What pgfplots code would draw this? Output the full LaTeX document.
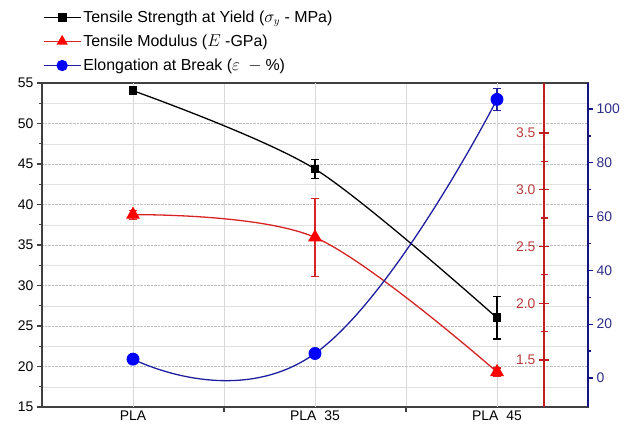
\documentclass[border=0pt]{standalone}
\usepackage{pgfplots}
\pgfplotsset{compat=1.18}
\usepackage{fontspec}
\setmainfont{Liberation Sans}

\definecolor{strength}{RGB}{0,0,0}
\definecolor{modline}{RGB}{215,35,35}
\definecolor{modmark}{RGB}{255,0,0}
\definecolor{modaxis}{RGB}{190,30,30}
\definecolor{modtext}{RGB}{185,60,60}
\definecolor{elline}{RGB}{30,30,160}
\definecolor{elmark}{RGB}{0,0,255}
\definecolor{elaxis}{RGB}{20,20,130}
\definecolor{eltext}{RGB}{45,45,140}

% tensile strength at yield (MPa)
\pgfplotstableread{
x  y      e
0  54.05  0.2
1  44.38  1.15
2  26.00  2.6
}\strengthdata
% tensile modulus (GPa)
\pgfplotstableread{
x  y      e
0  2.78   0.04
1  2.58   0.345
2  1.394  0.035
}\modulusdata
% elongation at break (%)
\pgfplotstableread{
x  y      e
0  7.0    0.6
1  9.1    0.6
2  103.6  4.0
}\elongationdata

\begin{document}
\begin{tikzpicture}
\pgfplotsset{
  base/.style={
    scale only axis, height=324bp,
    xmin=-0.5,
    /pgf/number format/assume math mode=true,
    tick label style={font=\fontsize{14}{16}\selectfont},
    major tick length=5bp, minor tick length=3bp,
  },
  errs/.style={error bars/.cd, y dir=both, y explicit,
    error bar style={#1, line width=1.2pt, solid},
    error mark options={rotate=90, mark size=4bp, line width=1.2pt, #1}},
  legend image code/.code={%
    \draw[mark repeat=2, mark phase=2, #1]
      plot coordinates {(0bp,0bp) (18.5bp,0bp) (37bp,0bp)};},
  sstyle/.style={strength, line width=1.3pt, smooth, tension=0.5,
    mark=square*, mark size=3.8bp, mark options={solid}},
  mstyle/.style={modline, line width=1.3pt, smooth, tension=0.55,
    mark=triangle*, mark size=6.8bp, mark options={solid, fill=modmark, draw=modmark}},
  estyle/.style={elline, line width=1.3pt, smooth, tension=0.8,
    mark=*, mark size=5.8bp, mark options={solid, fill=elmark, draw=elmark}},
}

% left axis: strength, grid, categories, legend
\begin{axis}[base, width=546bp, xmax=2.5,
  ymin=15, ymax=55, ytick={15,20,...,55}, minor y tick num=1,
  ytick pos=left, xtick pos=bottom, tick align=outside,
  axis line style={black!75, line width=1.5pt},
  tick style={black!75, line width=1.2pt},
  xtick={0.5,1.5}, xticklabels={},
  ymajorgrids, yminorgrids, xmajorgrids,
  major grid style={black!25, densely dotted},
  minor grid style={black!12},
  x grid style={black!15, solid},
  extra x ticks={0,1,2},
  extra x tick labels={PLA,PLA\ \ 35,PLA\ \ 45},
  extra x tick style={grid=major, major tick length=0pt,
    major grid style={black!35, densely dotted}},
  legend style={at={(-0.004,1.236)}, anchor=north west, draw=none, fill=none,
    font=\fontsize{16}{19}\selectfont, row sep=7bp, cells={anchor=west}},
]
\addplot+[sstyle, errs=strength] table[x=x, y=y, y error=e] {\strengthdata};
\addlegendentry{Tensile Strength at Yield ($\sigma_y$ - MPa)}
\addlegendimage{mstyle, mark size=5.2bp}
\addlegendentry{Tensile Modulus ($E$ -GPa)}
\addlegendimage{estyle, mark size=5bp}
\addlegendentry{Elongation at Break ($\varepsilon\ -\%$)}
\end{axis}

% inner right axis: modulus
\begin{axis}[base, width=502bp, xmax=2.258,
  ymin=1.086, ymax=3.94,
  axis x line=none, axis y line*=right,
  ytick={1.5,2.0,2.5,3.0,3.5}, minor y tick num=1,
  tick align=center, major tick length=10bp, minor tick length=7bp,
  y axis line style={modaxis, line width=1.4pt},
  ytick style={modaxis, line width=1.2pt},
  yticklabel style={modtext, anchor=east, xshift=-10bp,
    /pgf/number format/.cd, fixed, fixed zerofill, precision=1},
]
\addplot+[mstyle, errs=modline] table[x=x, y=y, y error=e] {\modulusdata};
\end{axis}

% outer right axis: elongation
\begin{axis}[base, width=546bp, xmax=2.5,
  ymin=-10.8, ymax=109.7,
  axis x line=none, axis y line*=right,
  ytick={0,20,...,100}, minor y tick num=1, tick align=outside,
  y axis line style={elaxis, line width=1.5pt},
  ytick style={elaxis, line width=1.2pt},
  yticklabel style={eltext},
]
\addplot+[estyle, errs=elline] table[x=x, y=y, y error=e] {\elongationdata};
\end{axis}

\pgfresetboundingbox
\path (-42bp,-18bp) rectangle (595bp,407bp);
\end{tikzpicture}
\end{document}
